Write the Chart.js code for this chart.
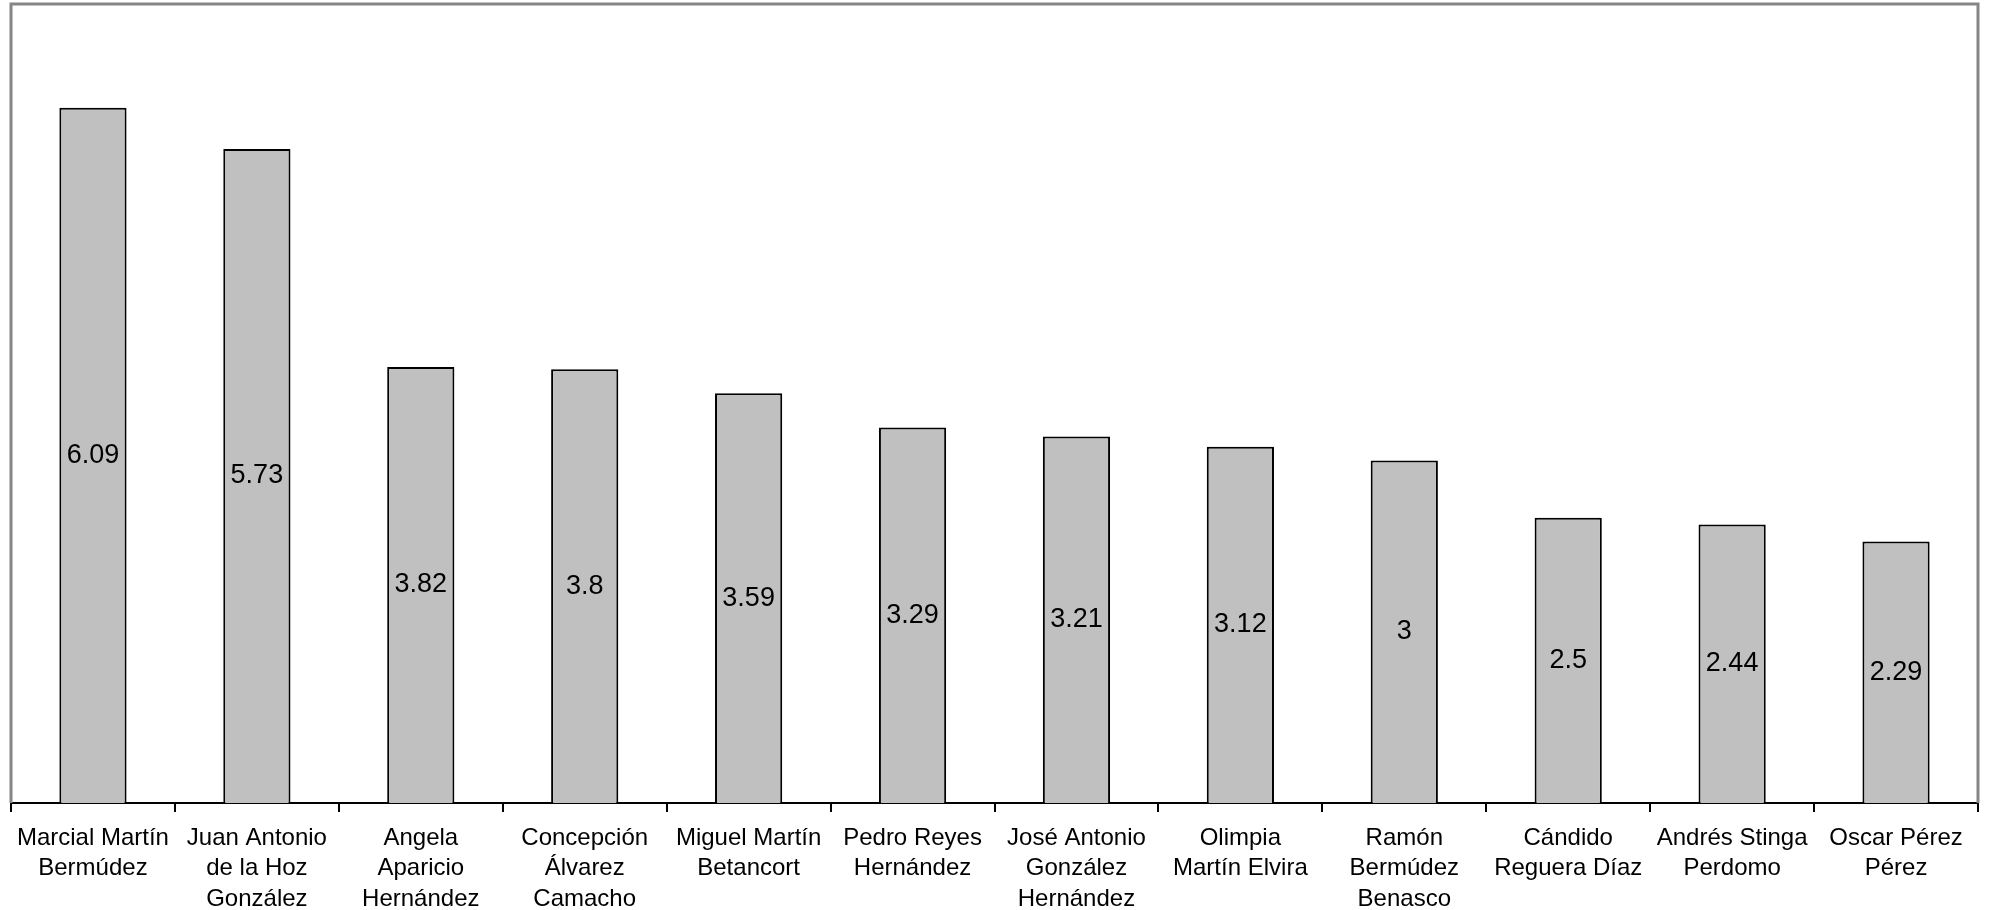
<html>
  <head>
    <script src="https://cdn.jsdelivr.net/npm/chart.js@4/dist/chart.umd.min.js"></script>
  </head>
  <body>
    <div id="wrap"><canvas id="graph"></canvas></div>
    <style>
      body{
        margin: 0;
        background-color: white;
      }
      #wrap{
        position: relative;
        width: 1991px;
        height: 910px;
      }
    </style>
    <script>
      var names = [
        ["Marcial Martín", "Bermúdez"],
        ["Juan Antonio", "de la Hoz", "González"],
        ["Angela", "Aparicio", "Hernández"],
        ["Concepción", "Álvarez", "Camacho"],
        ["Miguel Martín", "Betancort"],
        ["Pedro Reyes", "Hernández"],
        ["José Antonio", "González", "Hernández"],
        ["Olimpia", "Martín Elvira"],
        ["Ramón", "Bermúdez", "Benasco"],
        ["Cándido", "Reguera Díaz"],
        ["Andrés Stinga", "Perdomo"],
        ["Oscar Pérez", "Pérez"]
      ];
      var scores = [6.09, 5.73, 3.82, 3.8, 3.59, 3.29, 3.21, 3.12, 3, 2.5, 2.44, 2.29];
      var yMax = 7;

      // grey frame round the plot area (bottom edge is the black axis)
      var plotFrame = {
        id: 'plotFrame',
        beforeDatasetsDraw: function (chart) {
          var a = chart.chartArea, ctx = chart.ctx;
          ctx.save();
          ctx.strokeStyle = '#868686';
          ctx.lineWidth = 3;
          ctx.beginPath();
          ctx.moveTo(a.left, a.bottom);
          ctx.lineTo(a.left, a.top);
          ctx.lineTo(a.right, a.top);
          ctx.lineTo(a.right, a.bottom);
          ctx.stroke();
          ctx.restore();
        }
      };

      // value written in the middle of each bar
      var midLabels = {
        id: 'midLabels',
        afterDatasetsDraw: function (chart) {
          var ctx = chart.ctx;
          var meta = chart.getDatasetMeta(0);
          ctx.save();
          ctx.font = '27px "Liberation Sans", Arial, sans-serif';
          ctx.fillStyle = '#000';
          ctx.textAlign = 'center';
          ctx.textBaseline = 'middle';
          meta.data.forEach(function (bar, i) {
            var v = chart.data.datasets[0].data[i];
            ctx.fillText(String(v), bar.x, (bar.y + bar.base) / 2);
          });
          ctx.restore();
        }
      };

      var chartConfig = {
        type: 'bar',
        data: {
          labels: names,
          datasets: [{
            data: scores,
            backgroundColor: '#c0c0c0',
            borderColor: '#000',
            borderWidth: 2,
            borderSkipped: 'bottom',
            categoryPercentage: 1,
            barPercentage: 0.41
          }]
        },
        options: {
          responsive: true,
          maintainAspectRatio: false,
          animation: false,
          layout: {
            padding: {left: 11, right: 13, top: 4, bottom: 0}
          },
          plugins: {
            legend: {display: false},
            tooltip: {enabled: false}
          },
          scales: {
            y: {
              display: false,
              min: 0,
              max: yMax
            },
            x: {
              afterFit: function (scale) { scale.height = 107; },
              border: {display: true, color: '#000', width: 2},
              grid: {
                drawOnChartArea: false,
                drawTicks: true,
                tickLength: 9,
                color: '#000',
                lineWidth: 2,
                offset: true
              },
              ticks: {
                autoSkip: false,
                maxRotation: 0,
                minRotation: 0,
                padding: 11,
                color: '#000',
                font: {family: '"Liberation Sans", Arial, sans-serif', size: 24, lineHeight: 1.27}
              }
            }
          }
        },
        plugins: [plotFrame, midLabels]
      };
      var graph = new Chart(document.getElementById("graph"), chartConfig);
    </script>
  </body>
</html>
